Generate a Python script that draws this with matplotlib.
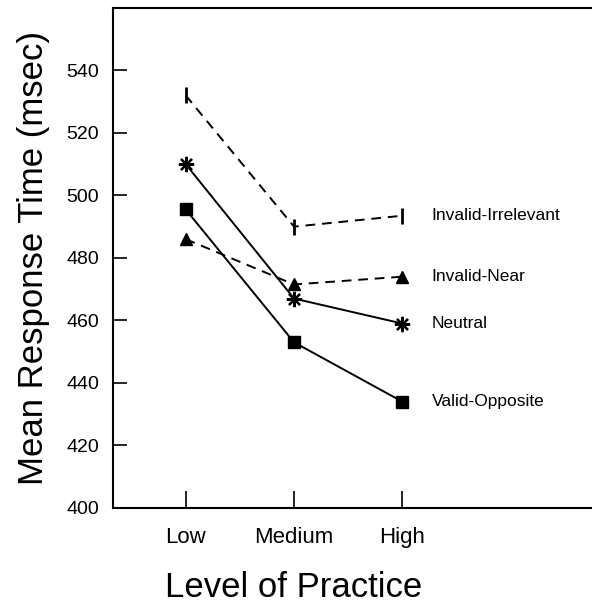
import matplotlib
matplotlib.use("Agg")
import matplotlib.pyplot as plt

plt.rcParams['font.family'] = ['Liberation Sans', 'DejaVu Sans']

# Data
levels = ["Low", "Medium", "High"]
x_pos = [1, 2, 3]
invalid_irrelevant = [532, 490, 493.5]
invalid_near = [486, 471.5, 474]
neutral = [510, 467, 459]
valid_opposite = [495.5, 453, 434]
y_ticks = [400, 420, 440, 460, 480, 500, 520, 540, 560]
y_ticklabels = ["400", "420", "440", "460", "480", "500", "520", "540", ""]

fig = plt.figure(figsize=(5.92, 6.04), dpi=100)
ax = fig.add_axes([0.191, 0.159, 0.809, 0.828])

series = [
    ("Invalid-Irrelevant", invalid_irrelevant, "--", "|", 11, 2.0),
    ("Invalid-Near", invalid_near, "--", "^", 8, 1.0),
    ("Neutral", neutral, "-", (8, 2, 0), 11, 1.6),
    ("Valid-Opposite", valid_opposite, "-", "s", 8, 1.0),
]

for name, vals, ls, mk, ms, mew in series:
    ax.plot(x_pos, vals, linestyle=ls, color="black", linewidth=1.4,
            marker=mk, markersize=ms, markeredgewidth=mew,
            markerfacecolor="black", markeredgecolor="black",
            dashes=(5, 3.5) if ls == "--" else (None, None))
    # label to the right of the last point
    ax.annotate(name, xy=(x_pos[-1], vals[-1]), xytext=(21, 0),
                textcoords="offset points", va="center", ha="left",
                fontsize=12.5)

ax.set_xlim(0.33, 4.75)
ax.set_ylim(400, 560)
ax.set_xticks(x_pos)
ax.set_xticklabels(levels, fontsize=16)
ax.set_yticks(y_ticks)
ax.set_yticklabels(y_ticklabels, fontsize=14)

ax.tick_params(axis="y", direction="in", length=10, width=1.2, pad=10)
ax.tick_params(axis="x", direction="in", length=12, width=1.2, pad=14)
ax.spines["right"].set_visible(False)
for s in ["left", "bottom", "top"]:
    ax.spines[s].set_linewidth(1.5)

ax.set_xlabel("Level of Practice", fontsize=25, labelpad=16)
ax.xaxis.label.set_x((2 - 0.33) / (4.75 - 0.33))
ax.set_ylabel("Mean Response Time (msec)", fontsize=25, labelpad=12)

fig.savefig("out.png", dpi=100)
